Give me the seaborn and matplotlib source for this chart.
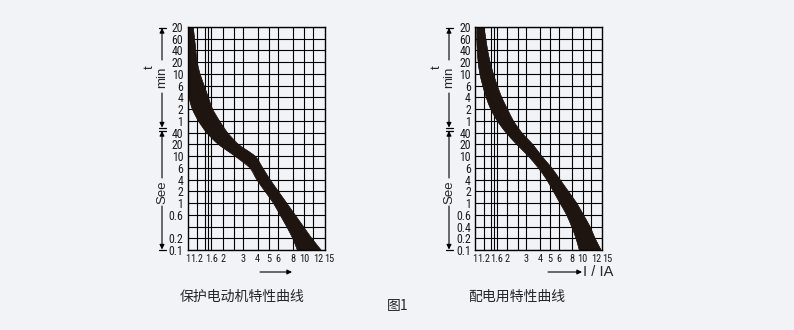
import numpy as np
import pandas as pd
import matplotlib
matplotlib.use("Agg")
import matplotlib.pyplot as plt
from matplotlib import font_manager as fm
from matplotlib.path import Path
from matplotlib.patches import PathPatch
from matplotlib.ticker import NullLocator
import seaborn as sns

# ---- time rows (top: minutes, bottom: seconds), evenly spaced ----
time_labels_motor = ["20", "60", "40", "20", "10", "6", "4", "2", "1",
                     "40", "20", "10", "6", "4", "2", "1", "0.6", "", "0.2", "0.1"]
time_labels_dist = ["20", "60", "40", "20", "10", "6", "4", "2", "1",
                    "40", "20", "10", "6", "4", "2", "1", "0.6", "0.4", "0.2", "0.1"]

# ---- current multiple axis ----
current_ticks = [1, 1.2, 1.6, 2, 3, 4, 5, 6, 8, 10, 12, 15]
current_tick_labels = ["1", "1.2", "1.6", "2", "3", "4", "5", "6", "8", "10", "12", "15"]
current_grid = [1.2, 1.4, 1.5, 1.6, 2, 2.5, 3, 4, 5, 6, 8, 10, 12]

# ---- tripping band: lower / upper current multiple for each time row ----
motor_low = [1.0, 1.0, 1.0, 1.0, 1.0, 1.0, 1.03, 1.10, 1.24, 1.46,
             1.84, 2.56, 3.44, 3.93, 4.63, 5.46, 6.23, 7.10, 8.00, 8.77]
motor_high = [1.12, 1.15, 1.18, 1.21, 1.28, 1.39, 1.51, 1.64, 1.88, 2.20,
              2.73, 3.80, 4.42, 5.11, 6.02, 7.10, 8.37, 9.87, 11.64, 14.0]

dist_low = [1.04, 1.04, 1.05, 1.07, 1.11, 1.18, 1.27, 1.40, 1.61, 1.94,
            2.44, 3.13, 3.87, 4.63, 5.34, 6.15, 7.09, 7.89, 8.66, 9.30]
dist_high = [1.21, 1.26, 1.31, 1.38, 1.48, 1.61, 1.77, 2.00, 2.27, 2.71,
             3.43, 4.16, 5.15, 6.15, 7.35, 8.78, 10.13, 11.68, 13.0, 14.78]

BG = "#F2F3F7"
BAND = "#1E1410"
W, H = 794, 330

sns.set_theme(style="white", rc={"figure.facecolor": BG, "axes.facecolor": BG})
plt.rcParams["font.family"] = ["Liberation Sans", "DejaVu Sans"]


def narrow_font():
    """Pick a condensed sans face for the crowded scale numbers."""
    entries = fm.fontManager.ttflist
    names = {f.name for f in entries}
    for fam in ("Liberation Sans Narrow", "Arimo Narrow", "Roboto Condensed",
                "Open Sans Condensed", "Noto Sans Condensed"):
        if fam in names:
            return {"fontfamily": fam}
    for f in entries:
        if (f.stretch in ("condensed", "semi-condensed") and f.style == "normal"
                and f.weight in (400, "normal", "regular", "book")):
            return {"fontfamily": f.name, "fontstretch": f.stretch}
    return {"fontfamily": "Liberation Sans"}


TICKFONT = narrow_font()

fig = plt.figure(figsize=(W / 100, H / 100), dpi=100)


def px_axes(x0, y0, x1, y1):
    return fig.add_axes([x0 / W, 1 - y1 / H, (x1 - x0) / W, (y1 - y0) / H])


def bezier_through(px, py):
    """Catmull-Rom curve through the points, as cubic Bezier vertices."""
    p = np.column_stack([px, py])
    ext = np.vstack([p[0], p, p[-1]])
    verts = []
    for i in range(len(p) - 1):
        p0, p1, p2, p3 = ext[i], ext[i + 1], ext[i + 2], ext[i + 3]
        verts += [p1 + (p2 - p0) / 6.0, p2 - (p3 - p1) / 6.0, p2]
    return np.array(verts)


def band_patch(low, high, rows):
    llow, lhigh = np.log10(low), np.log10(high)
    left = bezier_through(llow, rows)
    right = bezier_through(lhigh[::-1], rows[::-1])
    verts = [[llow[0], rows[0]]] + list(left) + [[lhigh[-1], rows[-1]]] + list(right) \
        + [[llow[0], rows[0]]]
    codes = [Path.MOVETO] + [Path.CURVE4] * len(left) + [Path.LINETO] \
        + [Path.CURVE4] * len(right) + [Path.CLOSEPOLY]
    verts = np.array(verts, dtype=float)
    verts[:, 0] = 10 ** verts[:, 0]
    return Path(verts, codes)


def draw_chart(ax, low, high, labels):
    rows = np.arange(len(labels), dtype=float)
    df = pd.DataFrame({"row": rows, "low": low, "high": high})
    ax.set_xscale("log")
    ax.add_patch(PathPatch(band_patch(df["low"].to_numpy(), df["high"].to_numpy(), rows),
                           facecolor=BAND, edgecolor=BAND, lw=0.4, zorder=3))
    for col in ("low", "high"):
        sns.lineplot(data=df, x=col, y="row", orient="y", sort=False,
                     estimator=None, color=BAND, lw=0.4, ax=ax, zorder=3)
    ax.set_xlim(1, 15)
    ax.set_ylim(len(labels) - 1, 0)
    ax.set_xlabel("")
    ax.set_ylabel("")
    for g in current_grid:
        ax.axvline(g, color="black", lw=0.8, zorder=1)
    for r in rows:
        ax.axhline(r, color="black", lw=0.8, zorder=1)
    ax.set_yticks(rows)
    ax.set_yticklabels(labels, fontsize=8.5, color="#1a1a1a", **TICKFONT)
    ax.set_xticks(current_ticks)
    ax.set_xticklabels(current_tick_labels, fontsize=7.4, color="#1a1a1a", **TICKFONT)
    xt = ax.get_xticklabels()
    # the last two numbers sit to the right of their grid lines
    xt[-2].set_horizontalalignment("left")
    xt[-1].set_horizontalalignment("left")
    ax.xaxis.set_minor_locator(NullLocator())
    ax.tick_params(axis="y", length=0, pad=3)
    ax.tick_params(axis="x", length=0, pad=3)
    for s in ax.spines.values():
        s.set_color("black")
        s.set_linewidth(1.0)
        s.set_zorder(4)


ax1 = px_axes(187.5, 27, 324.5, 250)
draw_chart(ax1, motor_low, motor_high, time_labels_motor)
ax2 = px_axes(475, 27, 601.7, 250)
draw_chart(ax2, dist_low, dist_high, time_labels_dist)

# ---- overlay in pixel coordinates for arrows and captions ----
ov = fig.add_axes([0, 0, 1, 1])
ov.set_xlim(0, W)
ov.set_ylim(H, 0)
ov.axis("off")
ov.patch.set_alpha(0)

AK = dict(color="black", lw=0.8, mutation_scale=7, shrinkA=0, shrinkB=0)


def arrow(x0, y0, x1, y1):
    ov.annotate("", xy=(x1, y1), xytext=(x0, y0),
                arrowprops=dict(arrowstyle="-|>", **AK))


def bar(x, y):
    ov.plot([x - 3.5, x + 3.5], [y, y], color="black", lw=0.9)


def unit_scale(x):
    # minutes section
    bar(x, 27.5)
    arrow(x, 60, x, 28)
    arrow(x, 93, x, 127.5)
    bar(x, 128)
    ov.text(x, 77, "min", rotation=90, ha="center", va="center", fontsize=9.5)
    ov.text(x - 12, 67, "t", rotation=90, ha="center", va="center", fontsize=9.5)
    # seconds section
    bar(x, 130.5)
    arrow(x, 178, x, 131)
    arrow(x, 206, x, 249.5)
    bar(x, 250)
    ov.text(x, 192, "See", rotation=90, ha="center", va="center", fontsize=9.5)


unit_scale(162)
unit_scale(449)

arrow(260, 272, 292, 272)
arrow(548, 272, 582, 272)
ov.text(583, 271.5, "I / IA", ha="left", va="center", fontsize=10.5)

CJK = ["Noto Sans CJK SC", "DejaVu Sans"]
ov.text(242, 297, "保护电动机特性曲线", ha="center", va="center",
        fontsize=10, fontfamily=CJK)
ov.text(517, 297, "配电用特性曲线", ha="center", va="center",
        fontsize=10, fontfamily=CJK)
ov.text(398, 306, "图1", ha="center", va="center", fontsize=10, fontfamily=CJK)

fig.savefig("out.png", dpi=100, facecolor=BG)
